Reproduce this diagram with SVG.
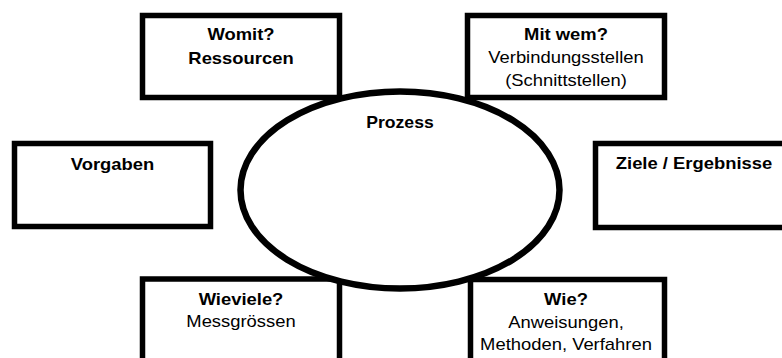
<svg xmlns="http://www.w3.org/2000/svg" width="782" height="358" viewBox="0 0 782 358">
<style>
.box{fill:#fff;stroke:#000;stroke-width:5.5}
.ell{fill:#fff;stroke:#000;stroke-width:6.5}
text{font-family:"Liberation Sans",Arial,sans-serif;font-size:16px;fill:#000;text-anchor:middle}
.b{font-weight:bold}
</style>
<rect width="782" height="358" fill="#fff"/>
<g id="connectors"/>
<g id="node-womit">
<rect class="box" x="142.5" y="15.5" width="197" height="82"/>
<text class="b" transform="translate(241 39.5) scale(1.15 1)">Womit?</text>
<text class="b" transform="translate(241 63.5) scale(1.15 1)">Ressourcen</text>
</g>
<g id="node-mitwem">
<rect class="box" x="467.5" y="15.5" width="197" height="82"/>
<text class="b" transform="translate(566 39.5) scale(1.15 1)">Mit wem?</text>
<text transform="translate(566 63) scale(1.15 1)">Verbindungsstellen</text>
<text transform="translate(566 86) scale(1.15 1)">(Schnittstellen)</text>
</g>
<g id="node-vorgaben">
<rect class="box" x="14.5" y="143.5" width="196" height="83"/>
<text class="b" transform="translate(112.5 170) scale(1.15 1)">Vorgaben</text>
</g>
<g id="node-ziele">
<rect class="box" x="595.5" y="143.5" width="200" height="84"/>
<text class="b" transform="translate(694 169) scale(1.15 1)">Ziele / Ergebnisse</text>
</g>
<g id="node-wieviele">
<rect class="box" x="142.5" y="279" width="197" height="90"/>
<text class="b" transform="translate(241 305) scale(1.15 1)">Wieviele?</text>
<text transform="translate(241 327) scale(1.15 1)">Messgrössen</text>
</g>
<g id="node-wie">
<rect class="box" x="470.5" y="279.5" width="194" height="90"/>
<text class="b" transform="translate(566 305) scale(1.15 1)">Wie?</text>
<text transform="translate(566 328) scale(1.15 1)">Anweisungen,</text>
<text transform="translate(566 350) scale(1.15 1)">Methoden, Verfahren</text>
</g>
<g id="node-prozess">
<ellipse class="ell" cx="400" cy="190" rx="159.5" ry="98.5"/>
<text class="b" transform="translate(400 128) scale(1.1 1)">Prozess</text>
</g>
</svg>
